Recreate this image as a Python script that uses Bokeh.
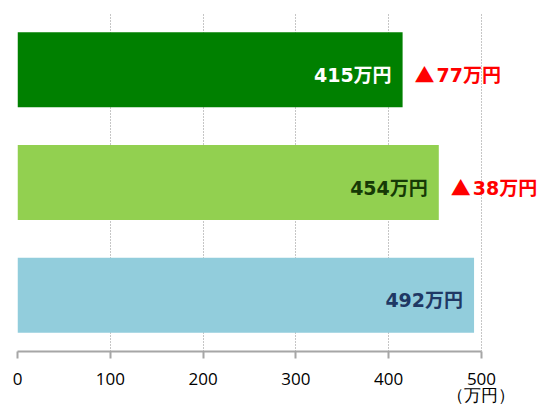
from bokeh.plotting import figure
from bokeh.models import ColumnDataSource, FactorRange, Range1d, FixedTicker
from bokeh.core.properties import value
from bokeh.embed import file_html
from bokeh.resources import INLINE

# ---- data ----
categories = ["区分1", "区分2", "区分3"]
values = [415, 454, 492]
diffs = [77, 38, None]
bar_colors = ["#008000", "#92D050", "#92CDDC"]
value_text_colors = ["#FFFFFF", "#163A06", "#1F3864"]
x_ticks = [0, 100, 200, 300, 400, 500]
unit_label = "（万円）"

value_labels = [f"{v}万円" for v in values]

src = ColumnDataSource(dict(cat=categories, val=values, color=bar_colors,
                            lab=value_labels, tcol=value_text_colors))
d_cats = [c for c, d in zip(categories, diffs) if d is not None]
d_vals = [v for v, d in zip(values, diffs) if d is not None]
d_labs = [f"{d}万円" for d in diffs if d is not None]
d_mark = ["▲" for d in diffs if d is not None]
dsrc = ColumnDataSource(dict(cat=d_cats, val=d_vals, lab=d_labs, mark=d_mark))

FONT = "DejaVu Sans, Noto Sans CJK JP"

p = figure(width=549, height=408, output_backend="svg", toolbar_location=None,
           y_range=FactorRange(factors=list(reversed(categories)), range_padding=0),
           x_range=Range1d(0, 573.3), y_axis_location=None,
           min_border_left=17, min_border_right=0, min_border_top=13, min_border_bottom=56)
p.outline_line_color = None
p.background_fill_color = "white"
p.border_fill_color = "white"

p.hbar(y="cat", right="val", left=0, height=0.665, fill_color="color",
       line_color=None, source=src)

p.text(x="val", y="cat", text="lab", text_color="tcol", source=src,
       text_align="right", text_baseline="middle", x_offset=-11, y_offset=5,
       text_font=value(FONT), text_font_style="bold",
       text_font_size="19px")
p.text(x="val", y="cat", text="mark", text_color="#FF0000", source=dsrc,
       text_align="left", text_baseline="middle", x_offset=12, y_offset=5,
       text_font=value("Noto Sans CJK JP"), text_font_style="bold",
       text_font_size="20px")
p.text(x="val", y="cat", text="lab", text_color="#FF0000", source=dsrc,
       text_align="left", text_baseline="middle", x_offset=34, y_offset=5,
       text_font=value(FONT), text_font_style="bold",
       text_font_size="19px")

ax = p.xaxis[0]
ax.ticker = FixedTicker(ticks=x_ticks)
ax.bounds = (0, 500)
overrides = {t: f"{t}\n " for t in x_ticks}
overrides[x_ticks[-1]] = f"{x_ticks[-1]}\n{unit_label}"
ax.major_label_overrides = overrides
ax.axis_line_color = "#A6A6A6"
ax.axis_line_width = 2
ax.major_tick_line_color = "#A6A6A6"
ax.major_tick_line_width = 2
ax.major_tick_in = 0
ax.major_tick_out = 7
ax.minor_tick_line_color = None
ax.major_label_text_font = "Open Sans"
ax.major_label_text_font_size = "17px"
ax.major_label_text_color = "#000000"
ax.major_label_text_line_height = 0.7
ax.major_label_standoff = 8

p.ygrid.grid_line_color = None
p.xgrid.grid_line_color = "#8C8C8C"
p.xgrid.grid_line_dash = "1 2"
p.xgrid.grid_line_width = 1

open("out.html", "w").write(file_html(p, INLINE))
